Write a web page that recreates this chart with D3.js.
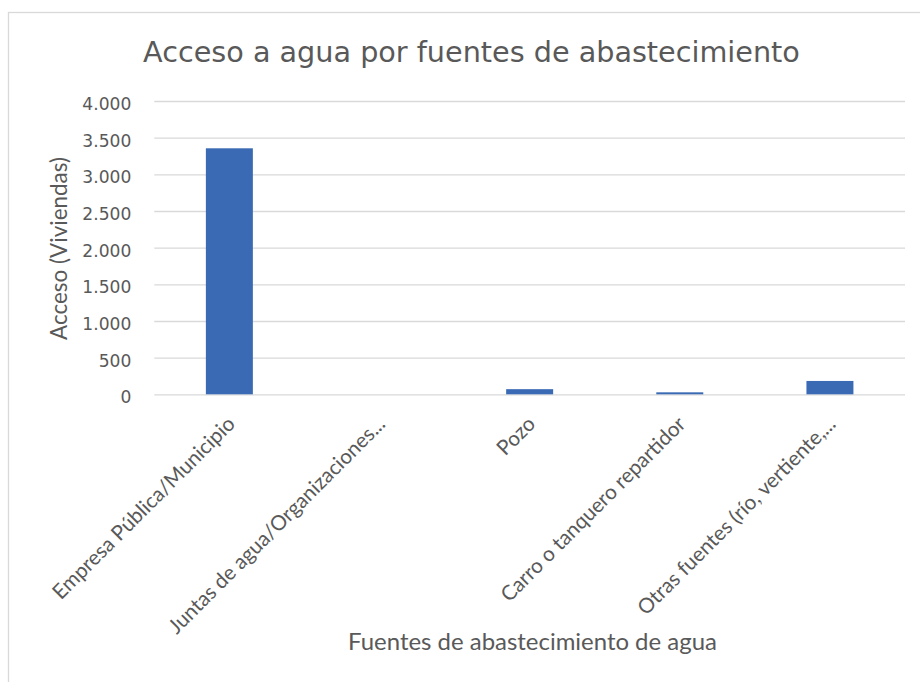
<!DOCTYPE html>
<html>
<head>
<meta charset="utf-8">
<script src="https://cdn.jsdelivr.net/npm/d3@7"></script>
<style>
  html, body { margin: 0; padding: 0; background: #ffffff; }
  svg { display: block; }
</style>
</head>
<body>
<svg id="chart" width="920" height="682"></svg>
<script>
// ---- data ----
const categories = [
  "Empresa Pública/Municipio",
  "Juntas de agua/Organizaciones...",
  "Pozo",
  "Carro o tanquero repartidor",
  "Otras fuentes (río, vertiente,..."
];
const values = [3355, 0, 70, 27, 182];
const yTicks = [0, 500, 1000, 1500, 2000, 2500, 3000, 3500, 4000];
const titleText = "Acceso a agua por fuentes de abastecimiento";
const yTitle = "Acceso (Viviendas)";
const xTitle = "Fuentes de abastecimiento de agua";

// ---- layout ----
const W = 920, H = 682;
const plot = { left: 154.3, right: 905, top: 101, bottom: 394.3 };
const textColor = "#595959";
const gridColor = "#d9d9d9";
const barColor = "#3a6ab4";
const fontTitle = "'DejaVu Sans', Verdana, sans-serif";
const fontBody = "Lato, Calibri, 'Open Sans', sans-serif";

const svg = d3.select("#chart");

function fitFont(sel, target) {
  sel.style("font-size", "20px");
  const len = sel.node().getComputedTextLength();
  const size = 20 * target / len;
  sel.style("font-size", size + "px");
  return size;
}

// chart border
svg.append("rect")
  .attr("x", 8.5).attr("y", 12.5)
  .attr("width", 1000).attr("height", 1000)
  .attr("fill", "#ffffff")
  .attr("stroke", gridColor).attr("stroke-width", 1.3);

// scales
const x = d3.scaleBand()
  .domain(categories)
  .range([plot.left, plot.right])
  .paddingInner(0.687)
  .paddingOuter(0.687 / 2);

const y = d3.scaleLinear()
  .domain([0, 4000])
  .range([plot.bottom, plot.top]);

const loc = d3.formatLocale({ decimal: ",", thousands: ".", grouping: [3], currency: ["", ""] });
const fmt = loc.format(",");

// y axis with gridlines
const yAxis = svg.append("g")
  .attr("transform", `translate(${plot.left},0)`)
  .call(d3.axisLeft(y)
    .tickValues(yTicks)
    .tickFormat(fmt)
    .tickSize(-(plot.right - plot.left))
    .tickPadding(23));
yAxis.select(".domain").remove();
yAxis.selectAll(".tick line")
  .attr("stroke", gridColor)
  .attr("stroke-width", 1.3);
const yLabels = yAxis.selectAll(".tick text")
  .attr("fill", textColor)
  .attr("dy", "0.5em")
  .style("font-family", fontTitle);
const tickSize = fitFont(yAxis.selectAll(".tick text").filter(d => d === 4000), 49);
yLabels.style("font-size", tickSize + "px");

// bars
svg.append("g")
  .selectAll("rect")
  .data(values)
  .join("rect")
  .attr("x", (d, i) => x(categories[i]))
  .attr("y", d => y(d))
  .attr("width", x.bandwidth())
  .attr("height", d => y(0) - y(d))
  .attr("fill", barColor);

// x axis labels (rotated)
const xAxis = svg.append("g")
  .attr("transform", `translate(0,${plot.bottom})`)
  .call(d3.axisBottom(x).tickSize(0).tickPadding(0));
xAxis.select(".domain").remove();
const xLabels = xAxis.selectAll(".tick text")
  .attr("fill", textColor)
  .attr("text-anchor", "end")
  .attr("dy", 0)
  .attr("y", 0)
  .attr("transform", "translate(7,31) rotate(-45)")
  .style("font-family", fontBody);
const catSize = fitFont(xAxis.select(".tick text"), 248);
xLabels.style("font-size", catSize + "px");

// title
const t = svg.append("text")
  .attr("x", 471.5).attr("y", 61.7)
  .attr("text-anchor", "middle")
  .attr("fill", textColor)
  .style("font-family", fontTitle)
  .text(titleText);
fitFont(t, 657);

// y axis title
const yt = svg.append("text")
  .attr("transform", `translate(67,248.5) rotate(-90)`)
  .attr("text-anchor", "middle")
  .attr("fill", textColor)
  .style("font-family", fontBody)
  .text(yTitle);
fitFont(yt, 183);

// x axis title
const xt = svg.append("text")
  .attr("x", 532.5).attr("y", 650)
  .attr("text-anchor", "middle")
  .attr("fill", textColor)
  .style("font-family", fontBody)
  .text(xTitle);
fitFont(xt, 369);
</script>
</body>
</html>
